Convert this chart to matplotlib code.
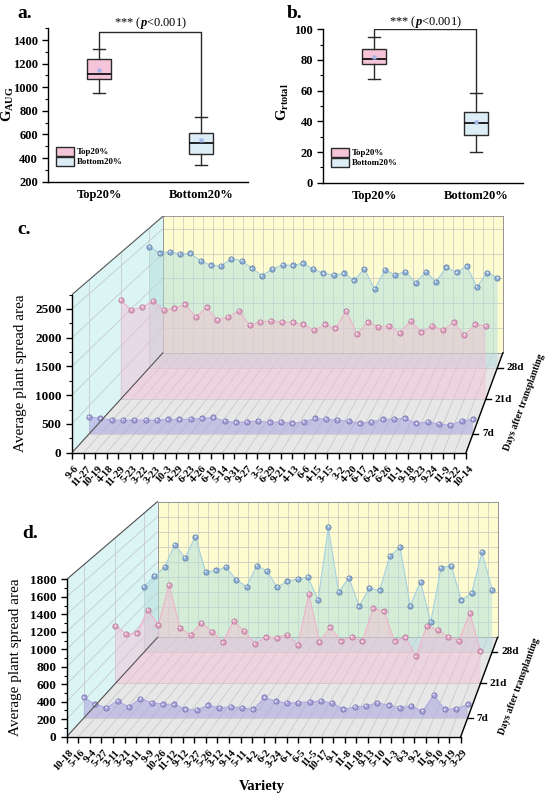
import numpy as np
import matplotlib
matplotlib.use("Agg")
import matplotlib.pyplot as plt
from matplotlib.patches import Patch
from matplotlib.transforms import ScaledTranslation

plt.rcParams['font.family'] = ['Liberation Serif', 'DejaVu Serif']
plt.rcParams['font.weight'] = 'bold'
plt.rcParams['mathtext.fontset'] = 'custom'
plt.rcParams['mathtext.rm'] = 'Liberation Serif'
plt.rcParams['mathtext.it'] = 'Liberation Serif:italic'
plt.rcParams['mathtext.bf'] = 'Liberation Serif:bold'
plt.rcParams['axes.linewidth'] = 1.0

# ---------------- data ----------------
groups = ["Top20%", "Bottom20%"]
auc_q1 = [1067, 435]
auc_med = [1112, 530]
auc_q3 = [1236, 610]
auc_lo = [954, 341]
auc_hi = [1323, 750]
auc_mean = [1146, 550]

rt_q1 = [77.4, 31.1]
rt_med = [80.5, 38.7]
rt_q3 = [87.0, 46.3]
rt_lo = [67.8, 19.8]
rt_hi = [94.8, 58.7]
rt_mean = [81.8, 39.4]

days = ["7d", "21d", "28d"]

top_varieties = ["9-6", "11-27", "10-19", "4-18", "11-29", "5-23", "3-22", "3-23", "10-3", "4-29",
                 "6-23", "4-26", "6-19", "5-14", "9-31", "9-27", "3-5", "6-29", "9-21", "4-13",
                 "6-6", "4-15", "3-15", "3-2", "4-20", "6-17", "6-24", "6-26", "11-1", "9-18",
                 "9-23", "9-24", "11-9", "4-22", "10-14"]
top_7d = [305, 277, 246, 246, 246, 246, 246, 259, 259, 264, 277, 294, 229, 205, 216, 229, 205, 216,
          187, 216, 277, 264, 246, 229, 187, 216, 259, 264, 277, 187, 216, 175, 157, 235, 259]
top_21d = [1859, 1671, 1733, 1840, 1671, 1703, 1778, 1545, 1722, 1483, 1545, 1652, 1389, 1451, 1470,
           1451, 1440, 1402, 1295, 1402, 1327, 1658, 1220, 1440, 1357, 1376, 1244, 1470, 1252, 1376,
           1295, 1440, 1201, 1402, 1376]
top_28d = [2380, 2250, 2282, 2236, 2250, 2105, 2013, 2000, 2144, 2105, 1954, 1810, 1941, 2020, 2013,
           2052, 1941, 1856, 1823, 1856, 1718, 1941, 1547, 1921, 1823, 1888, 1671, 1888, 1691, 1974,
           1876, 1994, 1593, 1868, 1770]

bottom_varieties = ["10-18", "5-16", "9-4", "5-27", "3-11", "3-21", "9-11", "9-9", "10-26", "11-12",
                    "9-12", "3-27", "5-26", "3-12", "9-14", "5-11", "4-2", "6-2", "3-24", "6-1",
                    "6-5", "11-5", "10-17", "9-1", "11-8", "11-18", "9-13", "5-10", "11-3", "6-3",
                    "9-2", "11-6", "9-10", "3-19", "3-29"]
bottom_7d = [241, 162, 123, 201, 130, 229, 182, 162, 162, 103, 95, 150, 123, 130, 123, 100, 241, 197,
             177, 182, 189, 201, 177, 103, 130, 142, 177, 150, 123, 142, 80, 268, 100, 111, 159]
bottom_21d = [714, 612, 619, 908, 723, 1217, 686, 599, 748, 640, 508, 768, 649, 488, 570, 566, 603, 476,
              1106, 517, 693, 520, 578, 520, 928, 891, 520, 570, 335, 714, 661, 578, 529, 871, 397]
bottom_28d = [848, 982, 1099, 1392, 1220, 1496, 1039, 1056, 1099, 935, 848, 1120, 1047, 840, 917, 948,
              969, 676, 1617, 775, 961, 593, 827, 797, 1241, 1358, 602, 913, 386, 1091, 1120, 667, 767,
              1293, 806]

# ---------------- styles ----------------
W, H = 550, 801
fig = plt.figure(figsize=(W / 100, H / 100), dpi=100)

box_colors = ["#f5c4d8", "#dcedf6"]
fill_colors = ["#aea8e0", "#f4bcd3", "#b5dfdc"]
fill_alpha = [0.6, 0.45, 0.55]
line_colors = ["#b3aee4", "#efb3cc", "#a6d0e0"]
marker_colors = ["#a7a3db", "#e5a6c6", "#8fb0d8"]
marker_edges = ["#6f6aa8", "#ad6f90", "#58789f"]
grid_col = "#c4c4c4"
A = 1 / 0.863 - 1  # perspective shrink of the back plane


def px_axes(left, bottom, width, height):
    # pixel box (y from top of image) -> figure fraction
    return fig.add_axes([left / W, (H - bottom) / H, width / W, height / H])


def box_panel(ax, q1, med, q3, lo, hi, mean, ylim, yticks, yminor, ylabel, bracket_y, text_y,
              label_y):
    stats = [dict(label=g, q1=a, med=b, q3=c, whislo=d, whishi=e, mean=f)
             for g, a, b, c, d, e, f in zip(groups, q1, med, q3, lo, hi, mean)]
    bp = ax.bxp(stats, positions=[1, 2], widths=0.24, capwidths=0.12, showmeans=True,
                patch_artist=True, showfliers=False,
                boxprops=dict(edgecolor="#2a2a2a", linewidth=1.0),
                whiskerprops=dict(color="#2a2a2a", linewidth=1.0),
                capprops=dict(color="#2a2a2a", linewidth=1.0),
                medianprops=dict(color="#111111", linewidth=1.3),
                meanprops=dict(marker="s", markerfacecolor="#a3b4e8", markeredgecolor="none",
                               markersize=3.5))
    for patch, col in zip(bp["boxes"], box_colors):
        patch.set_facecolor(col)
    ax.plot([1, 1, 2, 2], [hi[0], bracket_y, bracket_y, hi[1]], color="#2a2a2a", lw=1.0)
    ax.text(1.5, text_y, r"*** ($\mathit{p}$<0.001)", ha="center", va="center",
            fontsize=9, fontweight="normal", clip_on=False)
    ax.set_xlim(0.5, 2.46)
    ax.set_ylim(*ylim)
    ax.set_yticks(yticks)
    ax.set_yticks(yminor, minor=True)
    ax.spines[["top", "right"]].set_visible(False)
    ax.tick_params(axis="y", which="major", length=4, width=1.0, labelsize=9)
    ax.tick_params(axis="y", which="minor", length=2, width=0.8)
    ax.tick_params(axis="x", length=0, labelsize=9, pad=5)
    ax.set_ylabel(ylabel, fontsize=10.5)
    ax.yaxis.set_label_coords(-0.16, label_y)
    handles = [Patch(facecolor=c, edgecolor="#2a2a2a", linewidth=1.0) for c in box_colors]
    ax.legend(handles, groups, loc="lower left", bbox_to_anchor=(0.04, 0.1), frameon=False,
              prop=dict(size=6.4, weight="bold"), handlelength=2.0, handleheight=1.25,
              labelspacing=0.05, handletextpad=0.3, borderpad=0, borderaxespad=0)


def waterfall(ax, labels, series, ymax, yticks, yminor, x_top, y_top, label_x, label_y):
    n = len(labels)
    xmax = n - 1
    vx, vy = 1.683 * xmax, 4.61 * ymax
    depth = [(k + 0.5) / 3 for k in range(len(days))]

    def proj(x, y, d):
        s = 1.0 / (1.0 + A * d)
        return (vx + (np.asarray(x, float) - vx) * s, vy + (np.asarray(y, float) - vy) * s)

    def face(pts, color, z):
        xs, ys = zip(*[proj(*p) for p in pts])
        ax.fill(xs, ys, color=color, lw=0, zorder=z)

    def seg(p0, p1, **kw):
        a, b = proj(*p0), proj(*p1)
        ax.plot([a[0], b[0]], [a[1], b[1]], **kw)

    # walls
    face([(0, 0, 1), (xmax, 0, 1), (xmax, ymax, 1), (0, ymax, 1)], "#fdfcd0", 0.5)
    face([(0, 0, 0), (0, 0, 1), (0, ymax, 1), (0, ymax, 0)], "#dbf4f4", 0.5)
    face([(0, 0, 0), (xmax, 0, 0), (xmax, 0, 1), (0, 0, 1)], "#e7e7e7", 0.5)

    g = dict(color=grid_col, lw=0.5, zorder=0.6)
    for i in range(n):
        seg((i, 0, 1), (i, ymax, 1), **g)
        seg((i, 0, 0), (i, 0, 1), **g)
    for v in yticks[1:]:
        seg((0, v, 1), (xmax, v, 1), **g)
        seg((0, v, 0), (0, v, 1), **g)
    for d in depth:
        seg((0, 0, d), (0, ymax, d), **g)
        seg((0, 0, d), (xmax, 0, d), **g)

    # series, back to front
    xs = np.arange(n)
    for k in reversed(range(len(days))):
        d = depth[k]
        vals = np.asarray(series[k], float)
        px, py = proj(xs, vals, d)
        bx, by = proj([xmax, 0], [0, 0], d)
        ax.fill(np.r_[px, bx], np.r_[py, by], color=fill_colors[k], alpha=fill_alpha[k],
                lw=0, zorder=2)
        ax.plot(px, py, color=line_colors[k], lw=0.8, zorder=3)
        ax.plot(px, py, ls="none", marker="o", ms=3.8, mfc=marker_colors[k],
                mec=marker_edges[k], mew=0.5, zorder=4)
        hl = ax.transData + ScaledTranslation(-0.007, 0.007, fig.dpi_scale_trans)
        ax.plot(px, py, ls="none", marker="o", ms=1.3, mfc="white", mec="none", alpha=0.85,
                zorder=5, transform=hl)

    # box edges
    dark = dict(color="#555555", lw=0.8, zorder=6)
    seg((0, ymax, 0), (0, ymax, 1), **dark)
    seg((0, 0, 0), (0, 0, 1), **dark)
    light = dict(color="#8a8a8a", lw=0.6, zorder=1.5)
    seg((0, ymax, 1), (xmax, ymax, 1), **light)
    seg((xmax, 0, 1), (xmax, ymax, 1), **light)
    seg((0, 0, 1), (0, ymax, 1), **light)
    seg((0, 0, 1), (xmax, 0, 1), **light)

    # depth axis
    seg((xmax, 0, 0), (xmax, 0, 1), color="black", lw=1.0, zorder=7, clip_on=False)
    for d, lab in zip(depth, days):
        tx, ty = proj(xmax, 0, d)
        ax.plot([tx, tx + 0.45], [ty, ty], color="black", lw=1.0, zorder=7, clip_on=False)
        ax.annotate(lab, (tx, ty), xytext=(6.5, 0), textcoords="offset points", ha="left",
                    va="center", fontsize=8, annotation_clip=False)
    mx, my = proj(xmax, 0, 0.5)
    ax.annotate("Days after transplanting", (mx, my), xytext=(28, -2),
                textcoords="offset points", ha="center", va="center", rotation=70,
                fontsize=7, annotation_clip=False)

    # front axes = the matplotlib spines
    ax.set_xlim(0, x_top)
    ax.set_ylim(0, y_top)
    ax.patch.set_visible(False)
    ax.spines[["top", "right"]].set_visible(False)
    ax.spines["left"].set_bounds(0, ymax)
    ax.spines["bottom"].set_bounds(0, xmax)
    ax.spines["left"].set_zorder(8)
    ax.spines["bottom"].set_zorder(8)
    ax.set_yticks(yticks)
    ax.set_yticks(yminor, minor=True)
    ax.set_xticks(xs)
    ax.set_xticklabels(labels, rotation=48, ha="right", va="center", rotation_mode="anchor",
                       fontsize=7.7)
    ax.tick_params(axis="x", length=4, width=1.0, pad=6.5)
    ax.tick_params(axis="y", which="major", length=4, width=1.0, labelsize=9.5)
    ax.tick_params(axis="y", which="minor", length=2.2, width=0.8)
    shift = ScaledTranslation(0.055, 0, fig.dpi_scale_trans)
    for t in ax.get_xticklabels():
        t.set_transform(t.get_transform() + shift)
    ax.set_ylabel("Average plant spread area", fontsize=11)
    ax.yaxis.set_label_coords(label_x, label_y)


# ---------------- panels a, b ----------------
ax_a = px_axes(48.3, 181.7, 199.7, 153.5)
box_panel(ax_a, auc_q1, auc_med, auc_q3, auc_lo, auc_hi, auc_mean, (200, 1500),
          np.arange(200, 1401, 200), np.arange(200, 1501, 100), r"$\mathbf{G_{AUG}}$",
          1470, 1545, 0.506)

ax_b = px_axes(323.3, 182.7, 199.7, 153.4)
box_panel(ax_b, rt_q1, rt_med, rt_q3, rt_lo, rt_hi, rt_mean, (0, 100),
          np.arange(0, 101, 20), np.arange(0, 101, 10), r"$\mathbf{G_{rtotal}}$",
          100, 104.5, 0.523)

# ---------------- panels c, d ----------------
c_ymax, c_h = 2750, 158.1
c_xpx = 394 / 34
c_ytop = 4190
ax_c = px_axes(72, 452.7, 37.5 * c_xpx, c_ytop * c_h / c_ymax)
waterfall(ax_c, top_varieties, [top_7d, top_21d, top_28d], c_ymax,
          np.arange(0, 2501, 500), np.arange(0, 2751, 250), 37.5, c_ytop,
          -45 / (37.5 * c_xpx), (452.7 - 373) / (c_ytop * c_h / c_ymax))

d_ymax, d_h = 1800, 157.3
d_ytop = 2750
ax_d = px_axes(66.7, 736.7, 37.5 * c_xpx, d_ytop * d_h / d_ymax)
waterfall(ax_d, bottom_varieties, [bottom_7d, bottom_21d, bottom_28d], d_ymax,
          np.arange(0, 1801, 200), np.arange(0, 1801, 100), 37.5, d_ytop,
          -44.7 / (37.5 * c_xpx), (736.7 - 657) / (d_ytop * d_h / d_ymax))
ax_d.annotate("Variety", (17, 0), xytext=(-1, -36), textcoords="offset points",
              ha="center", va="center", fontsize=10.5, annotation_clip=False)

# panel letters
for lab, x, y in [("a.", 17, 14), ("b.", 287, 14), ("c.", 17, 229), ("d.", 22, 533)]:
    fig.text(x / W, 1 - y / H, lab, fontsize=14, ha="left", va="center")

fig.savefig("out.png", dpi=100)
